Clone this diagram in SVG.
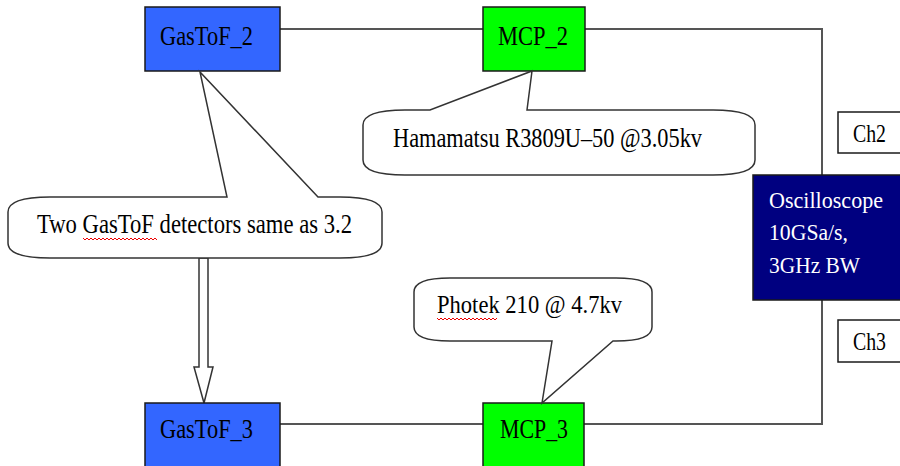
<svg xmlns="http://www.w3.org/2000/svg" width="900" height="466" viewBox="0 0 900 466">
<style>
  .t { font-family: "Liberation Serif", "Times New Roman", serif; fill: #000; }
  .w { fill: #fff; }
  .blue { fill: #3366ff; stroke: #1a1a1a; stroke-width: 1.5; }
  .green { fill: #00ff00; stroke: #1a1a1a; stroke-width: 1.5; }
  .navy { fill: #000080; stroke: #1a1a1a; stroke-width: 1.5; }
  .plain { fill: #fff; stroke: #1a1a1a; stroke-width: 1.5; }
  .conn { fill: none; stroke: #555; stroke-width: 2; }
  .call { fill: #fff; stroke: #333; stroke-width: 1.5; stroke-linejoin: miter; }
  .wave { fill: none; stroke: #e00; stroke-width: 1; }
</style>
<rect width="900" height="466" fill="#fff"/>
<g id="connectors">
  <polyline class="conn" points="280,29 483,29"/>
  <polyline class="conn" points="585,29 822,29 822,175"/>
  <polyline class="conn" points="280,424 483,424"/>
  <polyline class="conn" points="584,424 822,424 822,300"/>
  <path class="call" d="M199,258 L208,258 L208,367 L213,367 L204,403 L194,367 L199,367 Z"/>
</g>
<g id="gastof2">
  <rect class="blue" x="145" y="7" width="135" height="64"/>
  <text class="t" x="160" y="45" font-size="27" textLength="93" lengthAdjust="spacingAndGlyphs">GasToF_2</text>
</g>
<g id="mcp2">
  <rect class="green" x="483" y="7" width="102" height="64"/>
  <text class="t" x="498" y="45" font-size="27" textLength="70" lengthAdjust="spacingAndGlyphs">MCP_2</text>
</g>
<g id="gastof3">
  <rect class="blue" x="145" y="403" width="135" height="66"/>
  <text class="t" x="160" y="438" font-size="27" textLength="93" lengthAdjust="spacingAndGlyphs">GasToF_3</text>
</g>
<g id="mcp3">
  <rect class="green" x="483" y="403" width="101" height="66"/>
  <text class="t" x="500" y="438" font-size="27" textLength="68" lengthAdjust="spacingAndGlyphs">MCP_3</text>
</g>
<g id="oscilloscope">
  <rect class="navy" x="753" y="175" width="155" height="125"/>
  <text class="t w" x="769" y="208" font-size="24" textLength="114" lengthAdjust="spacingAndGlyphs">Oscilloscope</text>
  <text class="t w" x="769" y="240" font-size="24" textLength="79" lengthAdjust="spacingAndGlyphs">10GSa/s,</text>
  <text class="t w" x="769" y="273" font-size="24" textLength="91" lengthAdjust="spacingAndGlyphs">3GHz BW</text>
</g>
<g id="ch2">
  <rect class="plain" x="838" y="112" width="70" height="41"/>
  <text class="t" x="853" y="142" font-size="26" textLength="33" lengthAdjust="spacingAndGlyphs">Ch2</text>
</g>
<g id="ch3">
  <rect class="plain" x="838" y="320" width="70" height="42"/>
  <text class="t" x="853" y="350" font-size="26" textLength="33" lengthAdjust="spacingAndGlyphs">Ch3</text>
</g>
<g id="callout-hamamatsu">
  <path class="call" d="M405,110 L430,110 L532,71 L527,110 L713,110 Q755,110 755,125 L755,160 Q755,175 713,175 L405,175 Q363,175 363,160 L363,125 Q363,110 405,110 Z"/>
  <text class="t" x="393" y="147" font-size="27" textLength="309" lengthAdjust="spacingAndGlyphs">Hamamatsu R3809U–50 @3.05kv</text>
</g>
<g id="callout-gastof">
  <path class="call" d="M50,197 L227,197 L200,72 L318,197 L340,197 Q382,197 382,212 L382,243 Q382,258 340,258 L50,258 Q8,258 8,243 L8,212 Q8,197 50,197 Z"/>
  <text class="t" x="37" y="233" font-size="27" textLength="315" lengthAdjust="spacingAndGlyphs">Two GasToF detectors same as 3.2</text>
  <polyline class="wave" points="83,238 85,240 87,238 89,240 91,238 93,240 95,238 97,240 99,238 101,240 103,238 105,240 107,238 109,240 111,238 113,240 115,238 117,240 119,238 121,240 123,238 125,240 127,238 129,240 131,238 133,240 135,238 137,240 139,238 141,240 143,238 145,240 147,238 149,240 151,238 153,240 155,238 157,240"/>
</g>
<g id="callout-photek">
  <path class="call" d="M450,278 L616,278 Q652,278 652,292 L652,327 Q652,341 616,341 L613,341 L542,403 L552,341 L450,341 Q414,341 414,327 L414,292 Q414,278 450,278 Z"/>
  <text class="t" x="437" y="313" font-size="25" textLength="185" lengthAdjust="spacingAndGlyphs">Photek 210 @ 4.7kv</text>
  <polyline class="wave" points="437,318 439,320 441,318 443,320 445,318 447,320 449,318 451,320 453,318 455,320 457,318 459,320 461,318 463,320 465,318 467,320 469,318 471,320 473,318 475,320 477,318 479,320 481,318 483,320 485,318 487,320 489,318 491,320 493,318 495,320 497,318"/>
</g>
</svg>
